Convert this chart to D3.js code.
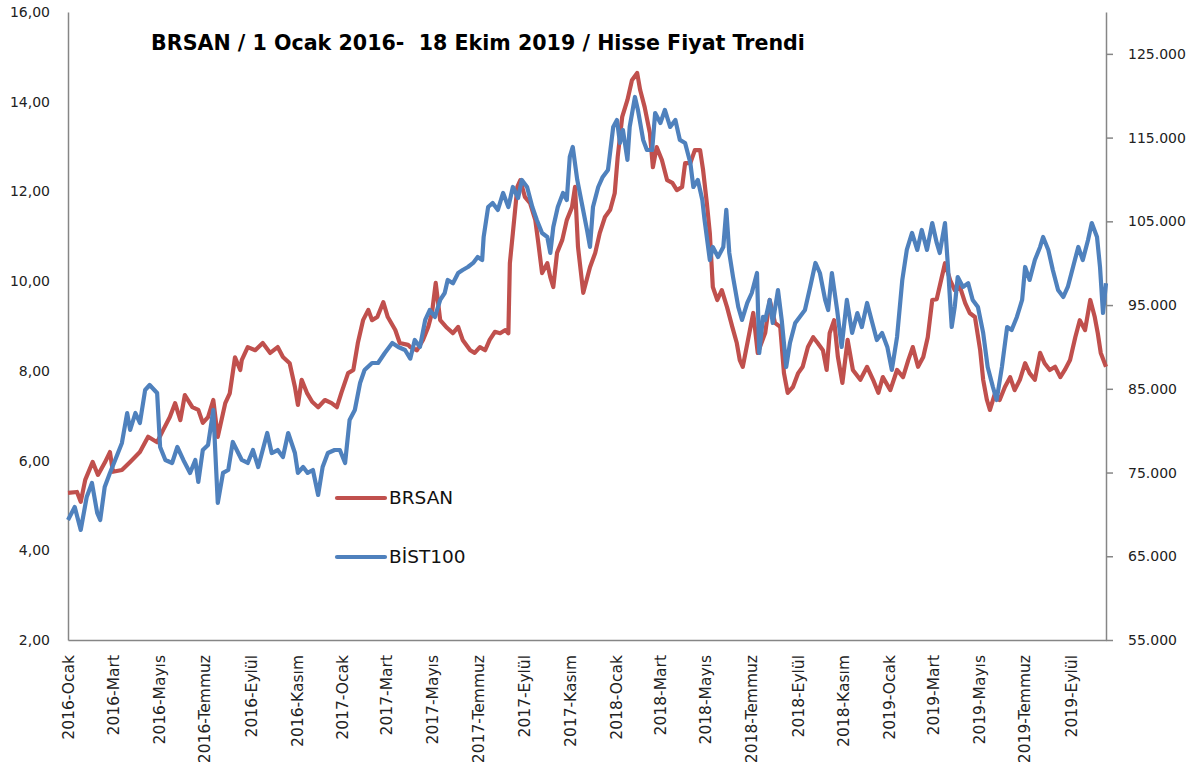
<!DOCTYPE html>
<html>
<head>
<meta charset="utf-8">
<script src="https://cdn.jsdelivr.net/npm/d3@7"></script>
<style>
  body { margin: 0; background: #fff; }
  text { font-family: "DejaVu Sans", sans-serif; }
</style>
</head>
<body>
<svg id="chart" width="1203" height="765"></svg>
<script>
// BRSAN kapanis fiyati (TL), sol eksen
var brsanDates = [
  "2016-01-01","2016-01-13","2016-01-18","2016-01-24","2016-02-03","2016-02-10","2016-02-19","2016-02-26","2016-03-01","2016-03-13",
  "2016-03-24","2016-04-06","2016-04-17","2016-04-29","2016-05-07","2016-05-16","2016-05-23","2016-05-30","2016-06-05","2016-06-15",
  "2016-06-23","2016-06-29","2016-07-06","2016-07-13","2016-07-19","2016-07-29","2016-08-04","2016-08-11","2016-08-18","2016-08-20",
  "2016-08-28","2016-09-07","2016-09-17","2016-09-27","2016-10-07","2016-10-14","2016-10-23","2016-10-30","2016-11-03","2016-11-08",
  "2016-11-15","2016-11-22","2016-11-30","2016-12-09","2016-12-18","2016-12-25","2016-12-31",
  "2017-01-09","2017-01-16","2017-01-22","2017-01-29","2017-02-05","2017-02-10","2017-02-17","2017-02-25","2017-03-03","2017-03-13",
  "2017-03-19","2017-03-30","2017-04-02","2017-04-11","2017-04-19","2017-04-26","2017-05-01","2017-05-06","2017-05-12","2017-05-21",
  "2017-05-29","2017-06-05","2017-06-11","2017-06-21","2017-06-27","2017-07-04","2017-07-11","2017-07-17","2017-07-24","2017-07-31",
  "2017-08-07","2017-08-11","2017-08-13","2017-08-17","2017-08-23","2017-08-27","2017-09-02","2017-09-09","2017-09-16","2017-09-20",
  "2017-09-25","2017-10-02","2017-10-06","2017-10-10","2017-10-15","2017-10-22","2017-10-28","2017-11-04","2017-11-08","2017-11-12",
  "2017-11-19","2017-11-28","2017-12-05","2017-12-11","2017-12-18","2017-12-25","2017-12-31",
  "2018-01-04","2018-01-10","2018-01-17","2018-01-23","2018-01-30","2018-02-03","2018-02-09","2018-02-16","2018-02-20","2018-02-25",
  "2018-03-04","2018-03-11","2018-03-18","2018-03-24","2018-03-31","2018-04-04","2018-04-11","2018-04-17","2018-04-24","2018-04-28",
  "2018-05-03","2018-05-07","2018-05-11","2018-05-17","2018-05-23","2018-05-30","2018-06-06","2018-06-12","2018-06-16","2018-06-20",
  "2018-06-27","2018-07-04","2018-07-10","2018-07-20","2018-07-26","2018-08-02","2018-08-09","2018-08-14","2018-08-19","2018-08-26",
  "2018-09-02","2018-09-08","2018-09-15","2018-09-22","2018-09-28","2018-10-05","2018-10-10","2018-10-14","2018-10-20","2018-10-25",
  "2018-10-31","2018-11-07","2018-11-14","2018-11-24","2018-12-03","2018-12-11","2018-12-18","2018-12-24",
  "2019-01-03","2019-01-12","2019-01-20","2019-01-27","2019-02-02","2019-02-09","2019-02-16","2019-02-22","2019-02-28","2019-03-06",
  "2019-03-17","2019-03-24","2019-03-30","2019-04-06","2019-04-13","2019-04-19","2019-04-26","2019-05-03","2019-05-07","2019-05-12",
  "2019-05-16","2019-05-23","2019-05-29","2019-06-05","2019-06-12","2019-06-18","2019-06-25","2019-07-02","2019-07-08","2019-07-15",
  "2019-07-22","2019-07-28","2019-08-04","2019-08-11","2019-08-18","2019-08-24","2019-08-31","2019-09-07","2019-09-13","2019-09-20",
  "2019-09-27","2019-10-03","2019-10-07","2019-10-11","2019-10-18"
];
var brsanValues = [
  5.28,5.30,5.08,5.57,5.97,5.68,5.95,6.19,5.75,5.79,
  5.97,6.19,6.53,6.41,6.68,6.97,7.28,6.90,7.46,7.19,
  7.13,6.84,6.97,7.35,6.53,7.28,7.50,8.30,8.02,8.24,
  8.53,8.46,8.62,8.40,8.53,8.31,8.17,7.64,7.24,7.80,
  7.51,7.31,7.19,7.35,7.28,7.19,7.51,
  7.95,8.02,8.62,9.13,9.36,9.13,9.20,9.53,9.20,8.91,
  8.62,8.58,8.53,8.46,8.69,8.98,9.29,9.96,9.13,8.96,
  8.84,8.98,8.69,8.46,8.40,8.53,8.46,8.69,8.87,8.84,
  8.91,8.84,10.40,11.07,12.10,12.25,11.88,11.74,11.36,10.85,
  10.18,10.40,10.09,9.87,10.63,10.92,11.36,11.65,12.10,10.76,
  9.74,10.31,10.63,11.07,11.43,11.59,11.96,
  12.77,13.66,14.04,14.48,14.64,14.26,13.88,13.30,12.54,12.99,
  12.70,12.25,12.19,12.03,12.10,12.63,12.63,12.92,12.92,12.48,
  11.74,11.07,9.87,9.58,9.80,9.42,8.98,8.62,8.24,8.09,
  8.69,9.29,8.40,8.85,9.58,9.07,8.98,7.95,7.51,7.64,
  7.95,8.09,8.53,8.75,8.62,8.46,8.02,8.84,9.13,8.31,
  7.73,8.69,8.02,7.80,8.09,7.80,7.51,7.86,
  7.57,8.02,7.86,8.24,8.53,8.09,8.31,8.75,9.58,9.60,
  10.40,10.02,9.80,9.87,9.51,9.29,9.20,8.46,7.80,7.35,
  7.13,7.51,7.35,7.64,7.86,7.57,7.80,8.17,7.95,7.80,
  8.40,8.17,8.02,8.09,7.86,8.02,8.24,8.75,9.13,8.91,
  9.58,9.20,8.84,8.40,8.09
];

// BIST100 endeksi, sag eksen
var bistDates = [
  "2016-01-01","2016-01-10","2016-01-18","2016-01-26","2016-02-02","2016-02-09","2016-02-13","2016-02-19","2016-02-26","2016-03-04",
  "2016-03-13","2016-03-20","2016-03-24","2016-03-31","2016-04-06","2016-04-13","2016-04-19","2016-04-29","2016-05-03","2016-05-10",
  "2016-05-19","2016-05-26","2016-06-03","2016-06-12","2016-06-19","2016-06-23","2016-06-29","2016-07-06","2016-07-13","2016-07-19",
  "2016-07-26","2016-08-02","2016-08-08","2016-08-20","2016-08-28","2016-09-04","2016-09-11","2016-09-23","2016-09-29","2016-10-07",
  "2016-10-14","2016-10-21","2016-10-30","2016-11-03","2016-11-10","2016-11-16","2016-11-23","2016-11-30","2016-12-06","2016-12-13",
  "2016-12-22","2016-12-29",
  "2017-01-05","2017-01-11","2017-01-18","2017-01-25","2017-01-31","2017-02-10","2017-02-18","2017-02-27","2017-03-09","2017-03-17",
  "2017-03-26","2017-04-02","2017-04-08","2017-04-15","2017-04-22","2017-04-28","2017-05-05","2017-05-12","2017-05-18","2017-05-22",
  "2017-05-29","2017-06-05","2017-06-11","2017-06-18","2017-06-25","2017-07-01","2017-07-07","2017-07-09","2017-07-15","2017-07-21",
  "2017-07-28","2017-08-04","2017-08-11","2017-08-17","2017-08-24","2017-08-29","2017-09-05","2017-09-12","2017-09-18","2017-09-25",
  "2017-10-02","2017-10-06","2017-10-10","2017-10-16","2017-10-23","2017-10-28","2017-11-01","2017-11-05","2017-11-11","2017-11-17",
  "2017-11-24","2017-11-28","2017-12-02","2017-12-09","2017-12-15","2017-12-22","2017-12-29",
  "2018-01-03","2018-01-07","2018-01-11","2018-01-17","2018-01-20","2018-01-27","2018-01-31","2018-02-07","2018-02-12","2018-02-19",
  "2018-02-23","2018-03-02","2018-03-08","2018-03-15","2018-03-22","2018-03-28","2018-04-04","2018-04-11","2018-04-15","2018-04-21",
  "2018-04-27","2018-04-30","2018-05-07","2018-05-11","2018-05-18","2018-05-25","2018-05-29","2018-06-02","2018-06-07","2018-06-14",
  "2018-06-19","2018-06-26","2018-07-02","2018-07-09","2018-07-12","2018-07-17","2018-07-20","2018-07-26","2018-07-30","2018-08-06",
  "2018-08-11","2018-08-17","2018-08-22","2018-08-29","2018-09-04","2018-09-11","2018-09-18","2018-09-25","2018-10-01","2018-10-08",
  "2018-10-12","2018-10-17","2018-10-24","2018-10-30","2018-11-06","2018-11-13","2018-11-20","2018-11-26","2018-12-03","2018-12-10",
  "2018-12-16","2018-12-23","2018-12-30",
  "2019-01-05","2019-01-12","2019-01-19","2019-01-25","2019-02-01","2019-02-08","2019-02-14","2019-02-21","2019-02-28","2019-03-06",
  "2019-03-10","2019-03-17","2019-03-21","2019-03-26","2019-03-30","2019-04-03","2019-04-10","2019-04-17","2019-04-23","2019-04-30",
  "2019-05-07","2019-05-13","2019-05-20","2019-05-25","2019-06-01","2019-06-08","2019-06-14","2019-06-21","2019-06-28","2019-07-02",
  "2019-07-08","2019-07-15","2019-07-22","2019-07-26","2019-08-02","2019-08-08","2019-08-15","2019-08-22","2019-08-28","2019-09-04",
  "2019-09-11","2019-09-17","2019-09-24","2019-09-29","2019-10-06","2019-10-10","2019-10-14","2019-10-18"
];
var bistValues = [
  69330,70880,68140,72080,73750,70170,69330,73270,74950,76500,
  78530,82110,80080,82110,80920,84860,85450,84500,78050,76500,
  76140,78050,76500,74950,76500,73870,77690,78290,82470,71360,
  74950,75300,78650,76500,76140,77690,75660,79720,77330,77690,
  76860,79720,77330,74950,75660,74950,75300,72320,75660,77330,
  77690,77690,
  76140,81270,82470,85690,87250,88080,88080,89280,90470,89990,
  89630,88600,90830,90000,93220,94410,93580,95610,96440,98000,
  97600,98830,99190,99550,100030,100740,100380,103130,106710,107190,
  106360,108390,106710,109100,107790,109940,109100,106710,105160,103610,
  103130,101220,104320,106710,108390,107550,112690,113880,109940,107190,
  103970,101940,106710,109100,110300,111130,116270,
  117100,114360,115910,112330,116270,119850,118300,114720,113520,113520,
  117940,116750,118300,116270,117100,114720,114360,111970,109100,109940,
  107550,105160,100380,101940,100740,101940,106360,101220,98350,94770,
  93220,95250,96440,98830,89280,93580,93220,95610,92860,96800,
  93220,87600,90470,92860,93580,94410,97160,100030,98830,95610,
  94410,98830,94410,90000,95610,91670,94050,92380,95250,92860,
  90830,91670,90000,
  87250,91190,98000,101580,103610,101580,103970,101580,104800,102420,
  101220,104800,99550,92380,94770,98350,97160,97600,95610,94770,
  91670,87600,85210,83660,87600,92380,92020,93580,95610,99550,
  98000,100380,101940,103130,101580,99190,96800,95970,97160,99550,
  101940,100380,102780,104800,103130,99550,94050,97600
];

// eksen etiketleri
var monthNames = ["Ocak","Şubat","Mart","Nisan","Mayıs","Haziran","Temmuz","Ağustos","Eylül","Ekim","Kasım","Aralık"];
var leftTicks = [2, 4, 6, 8, 10, 12, 14, 16];
var rightTicks = [55000, 65000, 75000, 85000, 95000, 105000, 115000, 125000];
var seriesNames = ["BRSAN", "BİST100"];
var titleText = "BRSAN / 1 Ocak 2016-  18 Ekim 2019 / Hisse Fiyat Trendi";

if (brsanDates.length !== brsanValues.length || bistDates.length !== bistValues.length) {
  console.error("length mismatch", brsanDates.length, brsanValues.length, bistDates.length, bistValues.length);
}

var parse = d3.timeParse("%Y-%m-%d");
var brsan = d3.zip(brsanDates, brsanValues).map(function(d) { return { date: parse(d[0]), value: d[1] }; });
var bist = d3.zip(bistDates, bistValues).map(function(d) { return { date: parse(d[0]), value: d[1] }; });

var trLocale = d3.formatLocale({ decimal: ",", thousands: ".", grouping: [3], currency: ["", " TL"] });

// cizim alani (window.top ile cakismasin diye farkli isimler)
var plotLeft = 68, plotRight = 1106, plotTop = 12, plotBottom = 640;
var axisColor = "#868686";
var colors = ["#C0504D", "#4F81BD"];

var svg = d3.select("#chart");

var x = d3.scaleTime()
  .domain([parse("2016-01-01"), parse("2019-10-18")])
  .range([plotLeft, plotRight]);
var yL = d3.scaleLinear().domain([2, 16]).range([plotBottom, plotTop]);
var yR = d3.scaleLinear().domain([55000, 130000]).range([plotBottom, plotTop]);

// sol eksen
var gLeft = svg.append("g")
  .attr("transform", "translate(" + plotLeft + ",0)")
  .call(d3.axisLeft(yL).tickValues(leftTicks).tickSize(0).tickSizeOuter(0).tickPadding(18)
    .tickFormat(trLocale.format(".2f")));
gLeft.select(".domain").attr("stroke", axisColor).attr("stroke-width", 1.5);
gLeft.selectAll("text").attr("font-size", 14).attr("fill", "#222")
  .attr("font-family", "DejaVu Sans");

// sag eksen
var gRight = svg.append("g")
  .attr("transform", "translate(" + plotRight + ",0)")
  .call(d3.axisRight(yR).tickValues(rightTicks).tickSize(7).tickSizeOuter(0).tickPadding(15)
    .tickFormat(trLocale.format(",d")));
gRight.select(".domain").attr("stroke", axisColor).attr("stroke-width", 1.5);
gRight.selectAll("line").attr("stroke", axisColor).attr("stroke-width", 1.5);
gRight.selectAll("text").attr("font-size", 14).attr("fill", "#222")
  .attr("font-family", "DejaVu Sans");

// alt eksen
var gBottom = svg.append("g")
  .attr("transform", "translate(0," + plotBottom + ")")
  .call(d3.axisBottom(x).ticks(d3.timeMonth.every(2)).tickSize(0).tickSizeOuter(0)
    .tickFormat(function(d) { return d.getFullYear() + "-" + monthNames[d.getMonth()]; }));
gBottom.select(".domain").attr("stroke", axisColor).attr("stroke-width", 1.5);
gBottom.selectAll("text")
  .attr("transform", "rotate(-90)")
  .attr("text-anchor", "end")
  .attr("x", -15)
  .attr("y", 0)
  .attr("dy", "0.36em")
  .attr("font-size", 15.5)
  .attr("fill", "#222")
  .attr("font-family", "DejaVu Sans");

// seriler
var lineL = d3.line().x(function(d) { return x(d.date); }).y(function(d) { return yL(d.value); });
var lineR = d3.line().x(function(d) { return x(d.date); }).y(function(d) { return yR(d.value); });

svg.append("path")
  .datum(brsan)
  .attr("d", lineL)
  .attr("fill", "none")
  .attr("stroke", colors[0])
  .attr("stroke-width", 4.2)
  .attr("stroke-linejoin", "round");

svg.append("path")
  .datum(bist)
  .attr("d", lineR)
  .attr("fill", "none")
  .attr("stroke", colors[1])
  .attr("stroke-width", 4.2)
  .attr("stroke-linejoin", "round");

// baslik
svg.append("text")
  .attr("x", 478)
  .attr("y", 50)
  .attr("text-anchor", "middle")
  .attr("font-family", "Lato")
  .attr("font-weight", "bold")
  .attr("font-size", 20.6)
  .attr("fill", "#000")
  .style("white-space", "pre")
  .text(titleText);

// lejant
var legendY = [498, 557];
seriesNames.forEach(function(name, i) {
  svg.append("line")
    .attr("x1", 337).attr("x2", 385)
    .attr("y1", legendY[i]).attr("y2", legendY[i])
    .attr("stroke", colors[i])
    .attr("stroke-width", 4.2)
    .attr("stroke-linecap", "round");
  svg.append("text")
    .attr("x", 389)
    .attr("y", legendY[i])
    .attr("dy", "0.35em")
    .attr("font-family", "Lato")
    .attr("font-size", 18.5)
    .attr("fill", "#111")
    .text(name);
});
</script>
</body>
</html>
